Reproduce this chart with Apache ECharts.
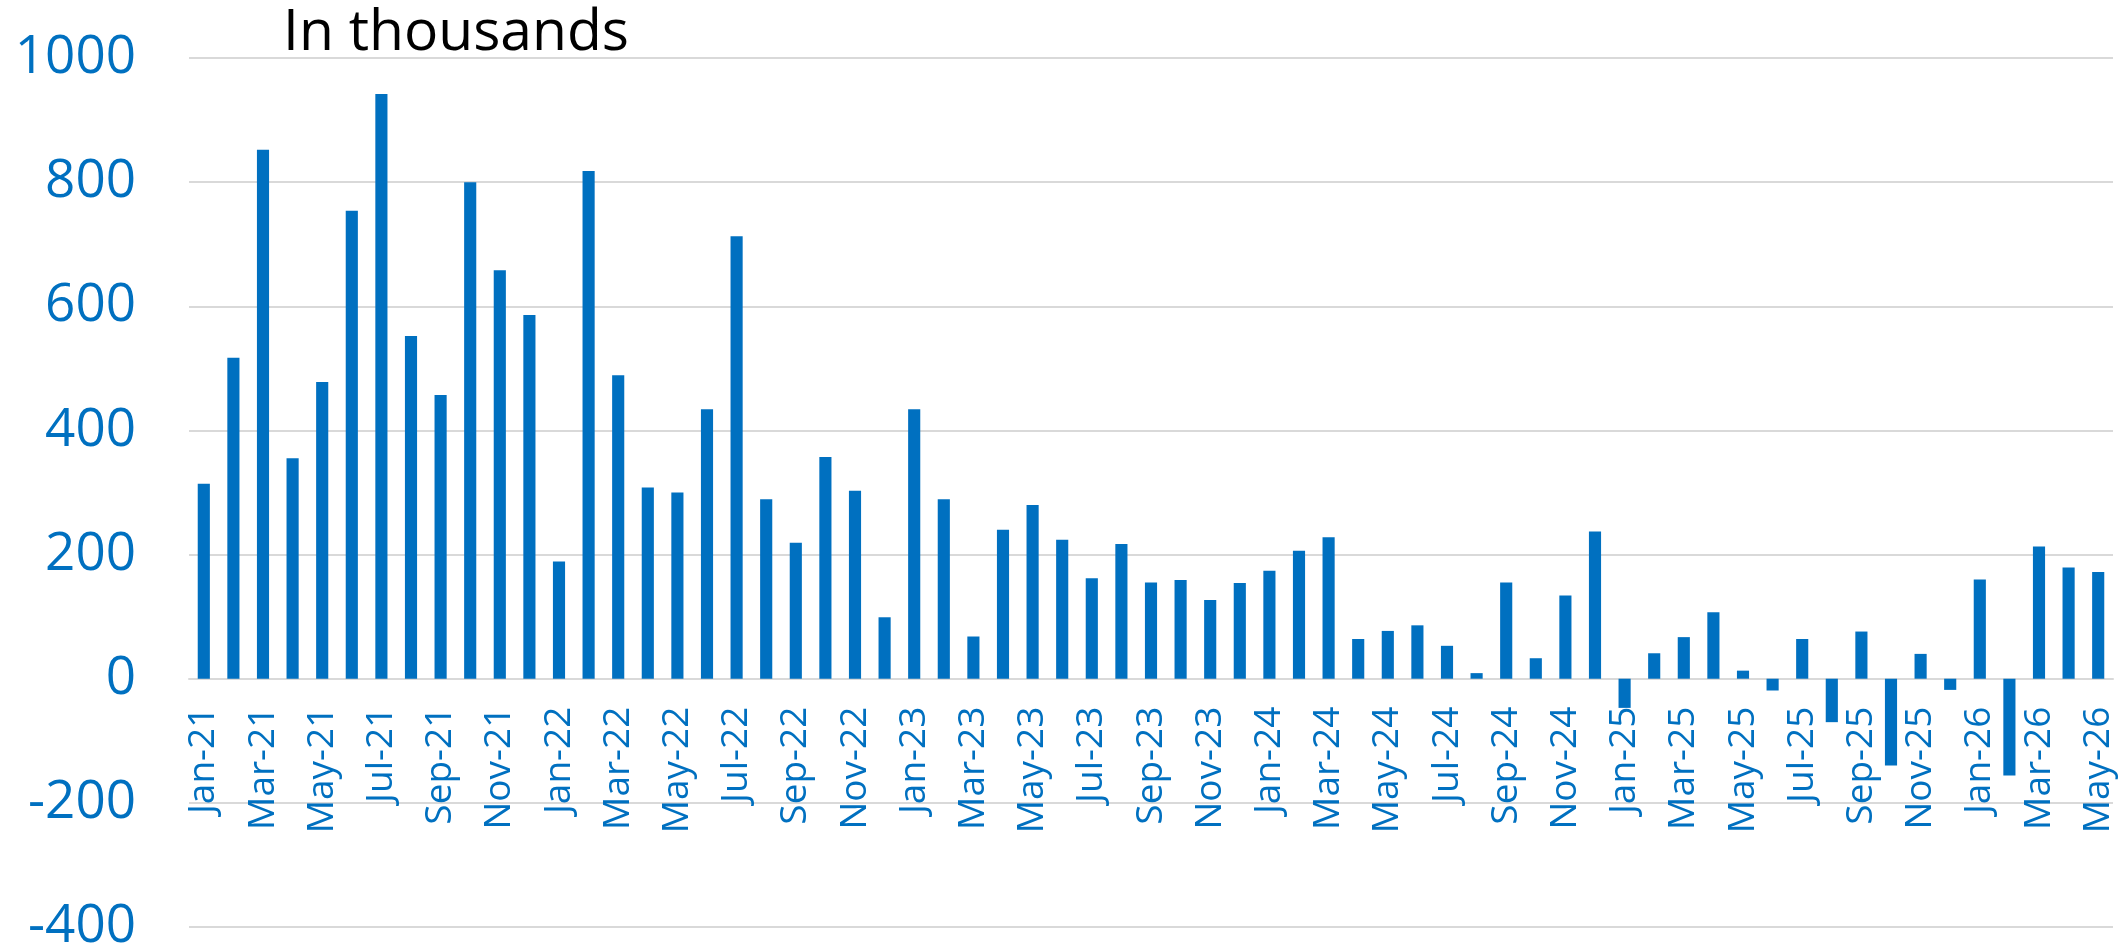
<!DOCTYPE html>
<html lang="en">
<head>
	<meta charset="UTF-8">
	<title>In thousands</title>
	<style>
	body, div {
		margin: 0;
		padding: 0;
	}
	.echart {
		width: 2126px;
		height: 949px;
	}
	</style>
</head>
<body>
	<div id="echart" class="echart"></div>

	<script src="https://cdn.jsdelivr.net/npm/echarts@6/dist/echarts.min.js"></script>

	<script>

	// months Jan-21 .. May-26
	var months = [
		'Jan-21', 'Feb-21', 'Mar-21', 'Apr-21', 'May-21', 'Jun-21', 'Jul-21', 'Aug-21', 'Sep-21', 'Oct-21', 'Nov-21', 'Dec-21',
		'Jan-22', 'Feb-22', 'Mar-22', 'Apr-22', 'May-22', 'Jun-22', 'Jul-22', 'Aug-22', 'Sep-22', 'Oct-22', 'Nov-22', 'Dec-22',
		'Jan-23', 'Feb-23', 'Mar-23', 'Apr-23', 'May-23', 'Jun-23', 'Jul-23', 'Aug-23', 'Sep-23', 'Oct-23', 'Nov-23', 'Dec-23',
		'Jan-24', 'Feb-24', 'Mar-24', 'Apr-24', 'May-24', 'Jun-24', 'Jul-24', 'Aug-24', 'Sep-24', 'Oct-24', 'Nov-24', 'Dec-24',
		'Jan-25', 'Feb-25', 'Mar-25', 'Apr-25', 'May-25', 'Jun-25', 'Jul-25', 'Aug-25', 'Sep-25', 'Oct-25', 'Nov-25', 'Dec-25',
		'Jan-26', 'Feb-26', 'Mar-26', 'Apr-26', 'May-26'
	];

	// values, in thousands
	var values = [
		314, 517, 852, 355, 478, 754, 942, 552, 457, 800, 658, 586,
		189, 818, 489, 308, 300, 434, 713, 289, 219, 357, 303, 99,
		434, 289, 68, 240, 280, 224, 162, 217, 155, 159, 127, 154,
		174, 206, 228, 64, 77, 86, 53, 9, 155, 33, 134, 237,
		-47, 41, 67, 107, 13, -19, 64, -70, 76, -140, 40, -18,
		160, -156, 213, 179, 172
	];

	var yTicks = [-400, -200, 0, 200, 400, 600, 800, 1000];

	var blue = '#0070c0';
	var gridGray = '#d9d9d9';

	var gridTop = 58;
	var gridBottom = 22;
	var plotH = 949 - gridTop - gridBottom;
	var yMin = yTicks[0];
	var yMax = yTicks[yTicks.length - 1];
	// move the category axis up from the grid bottom to the zero line
	var zeroOffset = plotH * (0 - yMin) / (yMax - yMin);

	var option = {
		animation: false,
		textStyle: { fontFamily: 'Open Sans' },
		title: {
			text: 'In thousands',
			left: 451,
			top: 0,
			textAlign: 'center',
			textStyle: {
				color: '#000',
				fontSize: 57,
				fontWeight: 'normal',
				fontFamily: 'Open Sans'
			}
		},
		grid: {
			left: 189,
			right: 13,
			top: gridTop,
			bottom: gridBottom,
			containLabel: false,
			outerBoundsMode: 'none'
		},
		xAxis: {
			type: 'category',
			data: months,
			position: 'bottom',
			offset: -zeroOffset,
			axisLine: { onZero: false, lineStyle: { color: gridGray, width: 2 } },
			axisTick: { show: false },
			axisLabel: {
				interval: 1,
				rotate: 90,
				margin: 28,
				color: blue,
				fontSize: 37,
				fontFamily: 'Open Sans'
			},
			splitLine: { show: false }
		},
		yAxis: {
			type: 'value',
			min: yMin,
			max: yMax,
			interval: 200,
			axisLine: { show: false },
			axisTick: { show: false },
			axisLabel: {
				margin: 53,
				color: blue,
				fontSize: 53,
				fontFamily: 'Open Sans',
				formatter: function (v) { return String(v); }
			},
			splitLine: { lineStyle: { color: gridGray, width: 2 } }
		},
		series: [{
			type: 'bar',
			data: values,
			barWidth: '41%',
			itemStyle: { color: blue }
		}]
	};

	var myEcharts = echarts.init(document.getElementById('echart'));
	myEcharts.setOption(option);

	</script>
</body>
</html>
